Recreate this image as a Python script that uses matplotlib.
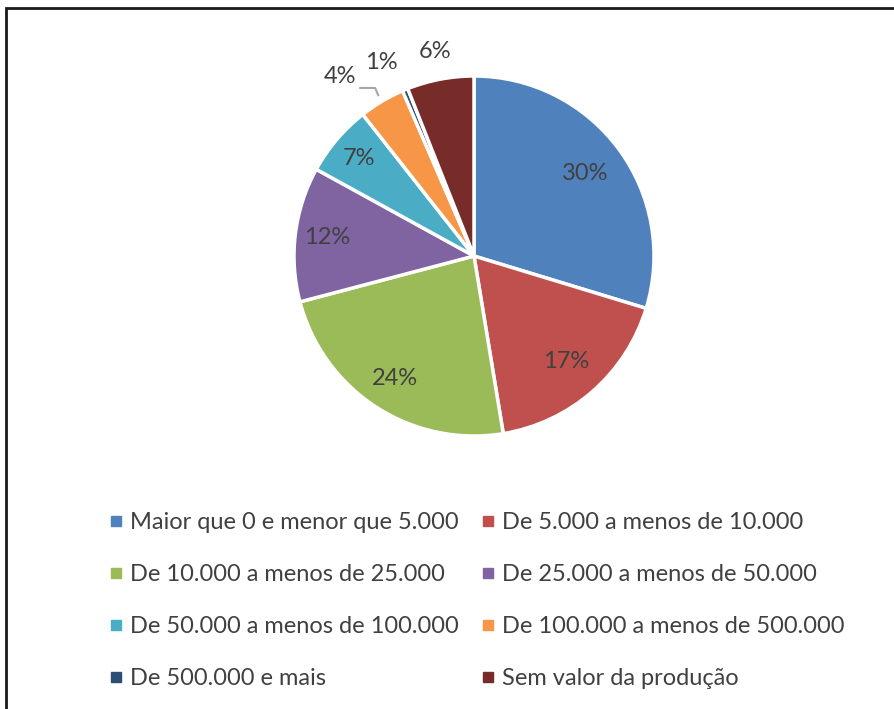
import matplotlib.pyplot as plt
import numpy as np
from matplotlib.patches import Rectangle

# slice shares (clockwise from 12 o'clock)
categories = [
    "Maior que 0 e menor que 5.000",
    "De 5.000 a menos de 10.000",
    "De 10.000 a menos de 25.000",
    "De 25.000 a menos de 50.000",
    "De 50.000 a menos de 100.000",
    "De 100.000 a menos de 500.000",
    "De 500.000 e mais",
    "Sem valor da produção",
]
shares = [29.7, 17.7, 23.5, 12.1, 6.4, 4.1, 0.5, 6.0]
pct_labels = ["30%", "17%", "24%", "12%", "7%", "4%", "1%", "6%"]
colors = ["#4F81BD", "#C0504D", "#9BBB59", "#8064A2",
          "#4BACC6", "#F79646", "#2C4D75", "#772C2A"]
# label placement: radius (in pie radii) and angular nudge (deg) from slice middle
label_dist = [0.77, 0.78, 0.81, 0.82, 0.84, 1.245, 1.19, 1.155]
label_nudge = [0, 0, 0, 0, 0, 6.0, 3.2, 0]

plt.rcParams["font.family"] = ["Lato", "DejaVu Sans"]

W, H = 895, 709
fig = plt.figure(figsize=(W / 100, H / 100), dpi=100)

# pie axes: centre (474, 256) px, radius 180 px
cx, cy, R, half = 474, 256, 180, 250
ax = fig.add_axes([(cx - half) / W, (H - cy - half) / H, 2 * half / W, 2 * half / H])

wedges, _ = ax.pie(shares, colors=colors, startangle=90, counterclock=False,
                   radius=1.0, wedgeprops=dict(edgecolor="white", linewidth=2.5))
lim = half / R
ax.set_xlim(-lim, lim)
ax.set_ylim(-lim, lim)
ax.set_aspect("equal")
ax.axis("off")

for w, txt, d, nd in zip(wedges, pct_labels, label_dist, label_nudge):
    mid = np.deg2rad((w.theta1 + w.theta2) / 2 + nd)
    ax.text(d * np.cos(mid), d * np.sin(mid), txt, ha="center", va="center",
            fontsize=17, color="#404040")

# leader line for the 4% label
w4 = wedges[5]
mid4 = np.deg2rad((w4.theta1 + w4.theta2) / 2)
px, py = 1.04 * np.cos(mid4), 1.04 * np.sin(mid4)
ax.plot([px, px - 0.017, px - 0.10], [py, py + 0.04, py + 0.04],
        color="#A6A6A6", linewidth=1.5, clip_on=False)

# legend, row-major like the original
order = [0, 2, 4, 6, 1, 3, 5, 7]
handles = [plt.Line2D([], [], marker="s", linestyle="", markersize=7,
                      color=colors[i]) for i in order]
fig.legend(handles, [categories[i] for i in order], ncol=2,
           loc="upper left", bbox_to_anchor=(104 / W, 1 - 512 / H),
           frameon=False, fontsize=17, labelcolor="#404040",
           borderaxespad=0, borderpad=0,
           handletextpad=0.1, handlelength=1.0, columnspacing=0.75,
           labelspacing=1.31)

# outer frame, cropped at right and bottom
fig.add_artist(Rectangle((6 / W, -0.1), 1.2, 1 - 8 / H + 0.1,
                         transform=fig.transFigure, fill=False,
                         edgecolor="#1a1a1a", linewidth=2, clip_on=False))

fig.savefig("out.png", dpi=100)
